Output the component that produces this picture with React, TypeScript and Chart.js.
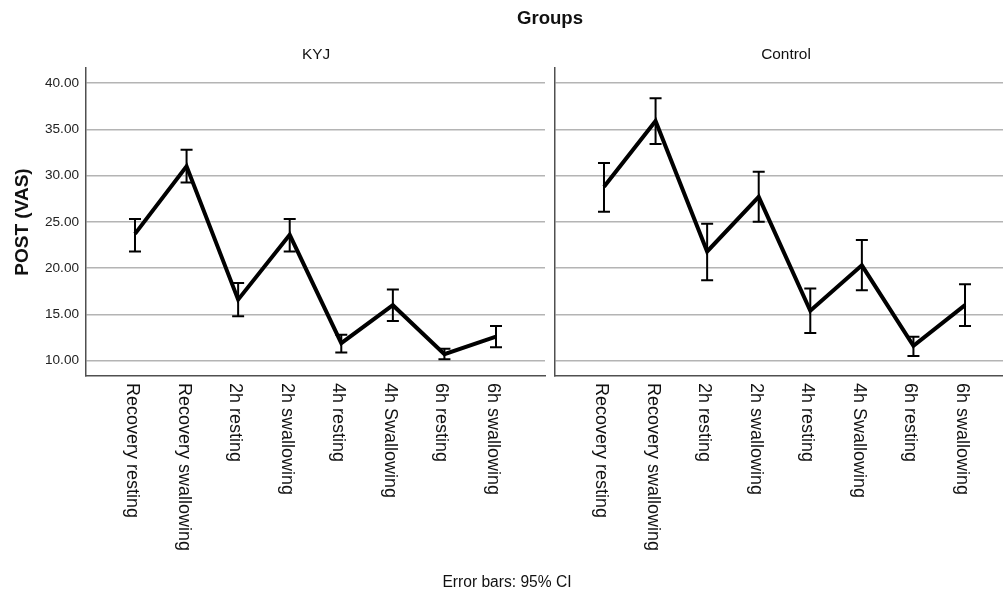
import React, { useEffect, useRef } from "react";
import { Chart, registerables } from "chart.js";

Chart.register(...registerables);

const categories = [
  "Recovery resting",
  "Recovery swallowing",
  "2h resting",
  "2h swallowing",
  "4h resting",
  "4h Swallowing",
  "6h resting",
  "6h swallowing",
];
const yTickValues = [10, 15, 20, 25, 30, 35, 40];

const kyjMean = [23.7, 31.0, 16.6, 23.6, 11.9, 16.0, 10.7, 12.6];
const kyjLow = [21.8, 29.25, 14.8, 21.8, 10.9, 14.3, 10.15, 11.45];
const kyjHigh = [25.3, 32.8, 18.4, 25.3, 12.8, 17.7, 11.3, 13.75];

const controlMean = [28.8, 35.9, 21.8, 27.7, 15.4, 20.3, 11.6, 16.0];
const controlLow = [26.1, 33.4, 18.7, 25.0, 13.0, 17.6, 10.5, 13.75];
const controlHigh = [31.35, 38.35, 24.8, 30.4, 17.8, 23.05, 12.6, 18.25];

const FONT = "'Liberation Sans', Arial, Helvetica, sans-serif";
const Y_MIN = 8.35;
const Y_MAX = 41.62;
const X_MIN = -0.95;
const X_MAX = 7.95;

const errorBarPlugin = {
  id: "errorBars",
  afterDatasetsDraw(chart: any, _args: any, opts: any) {
    const { ctx } = chart;
    const xs = chart.scales.x;
    const ys = chart.scales.y;
    const low: number[] = opts.low || [];
    const high: number[] = opts.high || [];
    ctx.save();
    ctx.strokeStyle = "#000";
    ctx.lineWidth = 2;
    low.forEach((lo, i) => {
      const x = xs.getPixelForValue(i);
      const yl = ys.getPixelForValue(lo);
      const yh = ys.getPixelForValue(high[i]);
      ctx.beginPath();
      ctx.moveTo(x, yl);
      ctx.lineTo(x, yh);
      ctx.moveTo(x - 6, yl);
      ctx.lineTo(x + 6, yl);
      ctx.moveTo(x - 6, yh);
      ctx.lineTo(x + 6, yh);
      ctx.stroke();
    });
    ctx.restore();
  },
};

const xLabelPlugin = {
  id: "xLabels",
  afterDraw(chart: any) {
    const { ctx, chartArea } = chart;
    const xs = chart.scales.x;
    ctx.save();
    ctx.font = `18px ${FONT}`;
    ctx.fillStyle = "#111";
    ctx.textAlign = "left";
    ctx.textBaseline = "middle";
    categories.forEach((label, i) => {
      const x = xs.getPixelForValue(i);
      ctx.save();
      ctx.translate(x - 3, chartArea.bottom + 7);
      ctx.rotate(Math.PI / 2);
      ctx.fillText(label, 0, 0);
      ctx.restore();
    });
    ctx.restore();
  },
};

function makeConfig(mean: number[], low: number[], high: number[], showY: boolean): any {
  return {
    type: "line",
    data: {
      datasets: [
        {
          data: mean.map((v, i) => ({ x: i, y: v })),
          borderColor: "#000",
          borderWidth: 4,
          pointRadius: 0,
          pointHoverRadius: 0,
          tension: 0,
          fill: false,
          borderJoinStyle: "miter",
        },
      ],
    },
    options: {
      responsive: false,
      maintainAspectRatio: false,
      animation: false,
      devicePixelRatio: 1,
      events: [],
      layout: {
        padding: { top: 68, bottom: 216, left: 0, right: showY ? 5 : 0 },
      },
      plugins: {
        legend: { display: false },
        tooltip: { enabled: false },
        title: { display: false },
        errorBars: { low, high },
      },
      scales: {
        x: {
          type: "linear",
          min: X_MIN,
          max: X_MAX,
          afterBuildTicks: (scale: any) => {
            scale.ticks = categories.map((_c, i) => ({ value: i }));
          },
          afterFit: (scale: any) => {
            scale.height = 0;
          },
          ticks: { display: false },
          grid: { display: false, drawTicks: false },
          border: { display: true, color: "#505050", width: 1.5 },
        },
        y: {
          type: "linear",
          min: Y_MIN,
          max: Y_MAX,
          afterBuildTicks: (scale: any) => {
            scale.ticks = yTickValues.map((v) => ({ value: v }));
          },
          afterFit: (scale: any) => {
            scale.width = showY ? 86 : 7;
          },
          ticks: {
            display: showY,
            padding: 7,
            color: "#222",
            font: { family: FONT, size: 13.6 },
            callback: (v: any) => Number(v).toFixed(2),
          },
          grid: { display: true, drawTicks: false, color: "#b4b4b4", lineWidth: 1.5 },
          border: { display: true, color: "#505050", width: 1.5 },
          title: {
            display: showY,
            text: "POST (VAS)",
            color: "#111",
            font: { family: FONT, size: 19, weight: "bold" },
            padding: { top: 11, bottom: 0 },
          },
        },
      },
    },
    plugins: [errorBarPlugin, xLabelPlugin],
  };
}

function Panel(props: {
  mean: number[];
  low: number[];
  high: number[];
  showY: boolean;
  left: number;
  width: number;
}) {
  const ref = useRef<HTMLCanvasElement>(null);
  useEffect(() => {
    if (!ref.current) return;
    const chart = new Chart(ref.current, makeConfig(props.mean, props.low, props.high, props.showY));
    return () => chart.destroy();
  }, []);
  return (
    <canvas
      ref={ref}
      width={props.width}
      height={592}
      style={{ position: "absolute", left: props.left, top: 0, width: props.width, height: 592 }}
    />
  );
}

const textStyle = (size: number, bold: boolean): React.CSSProperties => ({
  position: "absolute",
  fontFamily: FONT,
  fontSize: size,
  fontWeight: bold ? "bold" : "normal",
  lineHeight: 1,
  whiteSpace: "nowrap",
  color: "#111",
  transform: "translateX(-50%)",
});

export default function App() {
  return (
    <div
      style={{
        position: "fixed",
        left: 0,
        top: 0,
        width: 1003,
        height: 592,
        overflow: "hidden",
        background: "#fff",
      }}
    >
      <Panel mean={kyjMean} low={kyjLow} high={kyjHigh} showY={true} left={0} width={550} />
      <Panel mean={controlMean} low={controlLow} high={controlHigh} showY={false} left={548} width={466} />
      <div style={{ ...textStyle(18.6, true), left: 550, top: 8.5 }}>Groups</div>
      <div style={{ ...textStyle(15.4, false), left: 316, top: 46.3 }}>KYJ</div>
      <div style={{ ...textStyle(15.4, false), left: 786, top: 46.3 }}>Control</div>
      <div style={{ ...textStyle(15.6, false), left: 507, top: 574 }}>Error bars: 95% CI</div>
    </div>
  );
}
